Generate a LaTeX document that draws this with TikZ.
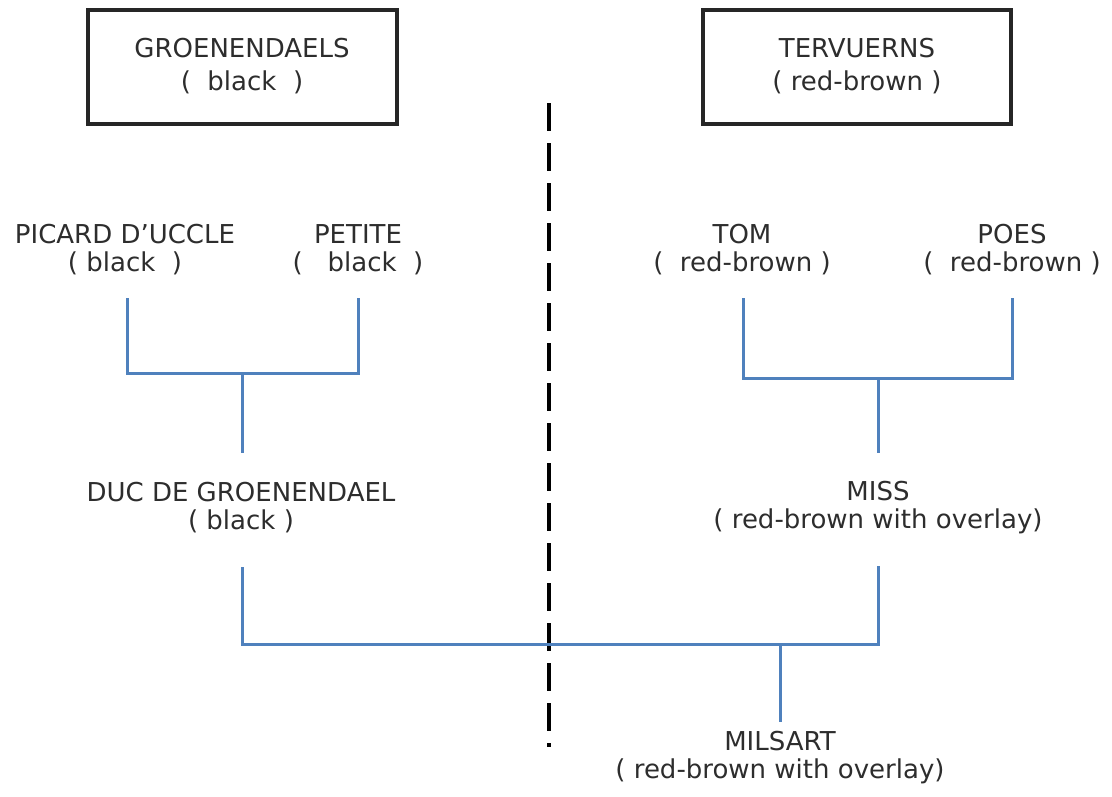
\documentclass[tikz,border=0pt]{standalone}
\usepackage{fontspec}
\setmainfont{DejaVu Sans}
\definecolor{linkblue}{RGB}{79,129,189}
\definecolor{txt}{RGB}{45,45,45}
\begin{document}
\begin{tikzpicture}[x=1pt,y=-1pt,
  lbl/.style={align=center,text=txt,inner sep=0pt,font=\fontsize{26}{28}\selectfont},
  boxlbl/.style={lbl,font=\fontsize{26}{33}\selectfont},
  frame/.style={draw=black!85,line width=3.5pt},
  link/.style={draw=linkblue,line width=3pt},
  divider/.style={draw=black,line width=3.5pt,dash pattern=on 28pt off 12pt}]
\useasboundingbox (0,0) rectangle (1112,796);
% boxes
\draw[frame] (88,10) rectangle (397,124);
\draw[frame] (703,10) rectangle (1011,124);
\node[boxlbl] (groen) at (242,66) {GROENENDAELS\\(~~black~~)};
\node[boxlbl] (terv) at (857,66) {TERVUERNS\\(~red-brown~)};
% divider
\coordinate (dtop) at (549,103);
\coordinate (dbot) at (549,747);
\draw[divider] (dtop) -- (dbot);
% dogs
\node[lbl] (picard) at (125,250) {PICARD D'UCCLE\\(~black~~)};
\node[lbl] (petite) at (358,250) {PETITE\\(~~~black~~)};
\node[lbl] (tom) at (742,250) {TOM\\(~~red-brown~)};
\node[lbl] (poes) at (1012,250) {POES\\(~~red-brown~)};
\node[lbl] (duc) at (241,508) {DUC DE GROENENDAEL\\(~black~)};
\node[lbl] (miss) at (878,508) {MISS\\(~red-brown with overlay)};
\node[lbl] (milsart) at (780,758) {MILSART\\(~red-brown with overlay)};
% junctions
\coordinate (pL) at (127,298);
\coordinate (pR) at (358,298);
\coordinate (jL) at (242,373);
\coordinate (ducTop) at (242,453);
\coordinate (tL) at (743,298);
\coordinate (tR) at (1012,298);
\coordinate (jR) at (878,378);
\coordinate (missTop) at (878,453);
\coordinate (dL) at (242,567);
\coordinate (dR) at (878,566);
\coordinate (jB) at (780,644);
\coordinate (milTop) at (780,722);
% links
\draw[link] (pL) |- (jL) -| (pR);
\draw[link] (jL) -- (ducTop);
\draw[link] (tL) |- (jR) -| (tR);
\draw[link] (jR) -- (missTop);
\draw[link] (dL) |- (jB) -| (dR);
\draw[link] (jB) -- (milTop);
\end{tikzpicture}
\end{document}
